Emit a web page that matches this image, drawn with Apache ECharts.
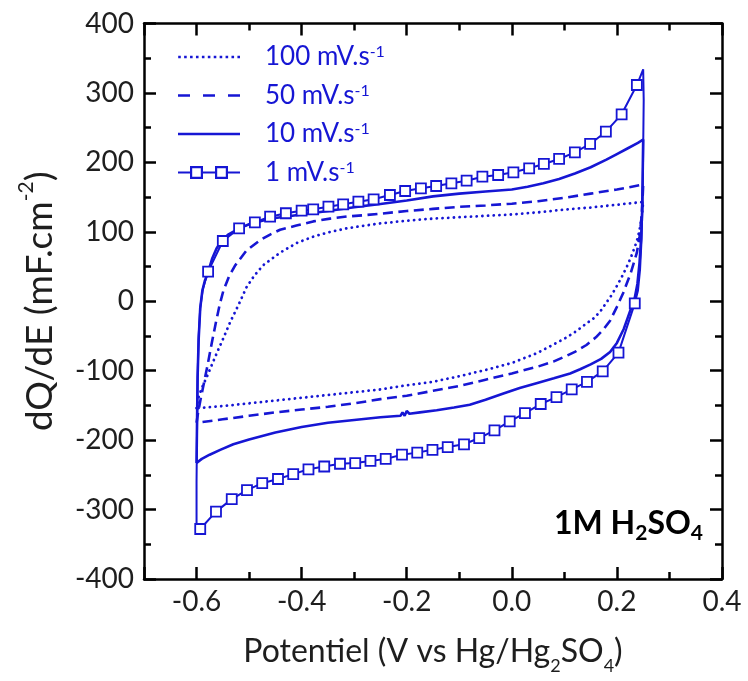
<!DOCTYPE html>
<html>
<head>
<meta charset="utf-8">
<script src="https://cdn.jsdelivr.net/npm/echarts@6.0.0/dist/echarts.min.js"></script>
<style>html,body{margin:0;padding:0;background:#fff;}#chart{width:748px;height:681px;}</style>
</head>
<body>
<div id="chart"></div>
<script>
// ---------------- data ----------------
const xRange = [-0.7, 0.4];
const yRange = [-400, 400];
const yStep = 100;
const seriesNames = ['100 mV.s-1', '50 mV.s-1', '10 mV.s-1', '1 mV.s-1'];
const xTitle = 'Potentiel (V vs Hg/Hg{sub|2}SO{sub|4})';
const yTitle = 'dQ/dE (mF.cm{sup|-2})';
const electrolyte = '1M H{sub|2}SO{sub|4}';

// 100 mV/s : anodic sweep then cathodic sweep
const v100 = [-0.600,-0.597,-0.590,-0.580,-0.570,-0.560,-0.550,-0.536,-0.520,-0.505,-0.490,-0.473,-0.457,-0.441,-0.409,-0.378,-0.350,-0.314,-0.280,-0.251,-0.200,-0.150,-0.100,-0.050,0.000,0.050,0.100,0.150,0.200,0.250,
              0.248,0.245,0.240,0.234,0.226,0.219,0.210,0.200,0.190,0.180,0.168,0.155,0.142,0.130,0.117,0.100,0.080,0.060,0.047,0.020,0.000,-0.050,-0.100,-0.150,-0.200,-0.250,-0.300,-0.350,-0.400,-0.450,-0.500,-0.550,-0.600];
const i100 = [-154,-140,-125,-108,-90,-72,-55,-30,-5,20,37,52,61,70,84,93,99,105,109,112,116,119,121,123,125,128,132,135,139,143,
              128,110,92,78,62,50,36,22,9,-2,-15,-25,-32,-39,-46,-54,-62,-70,-75,-83,-89,-99,-108,-116,-121,-127,-131,-135,-139,-143,-147,-151,-154];

// 50 mV/s
const v50 = [-0.600,-0.597,-0.592,-0.586,-0.579,-0.571,-0.563,-0.556,-0.549,-0.538,-0.527,-0.515,-0.505,-0.479,-0.460,-0.441,-0.410,-0.378,-0.346,-0.314,-0.280,-0.251,-0.200,-0.150,-0.100,-0.050,0.000,0.050,0.100,0.150,0.200,0.250,
             0.249,0.247,0.243,0.238,0.232,0.226,0.212,0.200,0.187,0.174,0.160,0.142,0.120,0.100,0.079,0.050,0.020,0.000,-0.050,-0.100,-0.150,-0.200,-0.250,-0.300,-0.350,-0.400,-0.450,-0.500,-0.550,-0.600];
const i50 = [-175,-160,-140,-118,-92,-60,-30,-5,15,36,51,63,73,88,96,103,109,115,119,122,124,126,130,133,136,138,140.5,144,149,155,161,168,
             150,122,93,70,55,40,12,-8,-28,-41,-52,-63,-73,-80,-87,-94,-100,-104,-113,-122,-129,-136,-141,-147,-152,-156,-160,-165,-170,-175];

// 10 mV/s
const v10 = [-0.600,-0.599,-0.598,-0.596,-0.593,-0.589,-0.584,-0.578,-0.570,-0.562,-0.553,-0.540,-0.521,-0.500,-0.475,-0.450,-0.400,-0.350,-0.300,-0.250,-0.200,-0.150,-0.100,-0.050,0.000,0.030,0.060,0.090,0.120,0.150,0.180,0.200,0.220,0.240,0.250,
             0.249,0.248,0.246,0.243,0.239,0.234,0.228,0.220,0.213,0.200,0.187,0.170,0.150,0.130,0.111,0.080,0.047,0.015,-0.016,-0.050,-0.080,-0.110,-0.143,-0.175,-0.195,-0.200,-0.204,-0.208,-0.212,-0.250,-0.300,-0.350,-0.400,-0.450,-0.500,-0.530,-0.555,-0.575,-0.590,-0.600];
const i10 = [-233,-170,-110,-55,-10,15,30,42,62,76,86,96,104,111,116,120,125,130,135.5,140,145,151,155,158,161,165,170,176,184,193,204,212,220,228,233,
             180,130,90,55,25,5,-8,-25,-40,-60,-73,-83,-91,-98,-104,-111,-118,-125,-133,-142,-149,-153,-157,-160,-162,-158,-165,-160,-165,-167,-171,-175,-181,-189,-199,-206,-214,-221,-227,-233];

// 1 mV/s : turning parts (no marker) and marked parts
const v1TurnLow  = [-0.600,-0.600,-0.599,-0.598,-0.596,-0.593,-0.588];
const i1TurnLow  = [-331,-260,-180,-110,-50,-10,18];
const v1Up = [-0.578,-0.550,-0.519,-0.489,-0.460,-0.430,-0.400,-0.378,-0.349,-0.321,-0.292,-0.263,-0.232,-0.203,-0.173,-0.144,-0.115,-0.086,-0.056,-0.026,0.003,0.033,0.061,0.090,0.120,0.149,0.179,0.209,0.238];
const i1Up = [42.6,86.8,105,113.7,121.8,126.7,130.4,132.4,136.2,139.6,143.4,146.8,153,158.8,162.7,166,169.9,173.6,179.4,181.8,185.7,191.5,197.7,204.9,214.5,226.5,244.2,269.2,311.4];
const v1TurnHigh = [0.250,0.251,0.250,0.249,0.247,0.244,0.240];
const i1TurnHigh = [334,290,220,150,90,45,15];
const v1Down = [0.234,0.203,0.173,0.143,0.114,0.085,0.055,0.025,-0.004,-0.033,-0.062,-0.091,-0.122,-0.151,-0.180,-0.209,-0.240,-0.269,-0.298,-0.327,-0.357,-0.387,-0.416,-0.445,-0.475,-0.504,-0.533,-0.563,-0.593];
const i1Down = [-3,-74,-101,-116,-127,-138,-148,-161,-173,-186,-197,-206,-210,-214,-218,-221,-227,-230,-233,-234,-238,-242,-249,-256,-262,-272,-285,-303,-328];

// ---------------- chart ----------------
const BLUE = '#1616d4';
const INK = '#1e1e1e';
const FONT = 'Lato';

function pairs(v, i) { return v.map((x, k) => [x, i[k]]); }
function plain(v, i) { return v.map((x, k) => ({ value: [x, i[k]], symbol: 'none' })); }

const data1 = [].concat(
  plain(v1TurnLow, i1TurnLow),
  pairs(v1Up, i1Up),
  plain(v1TurnHigh, i1TurnHigh),
  pairs(v1Down, i1Down)
);

// legend icons (62 x 14 box)
function rp(x, y, w, h) { return 'M' + x + ' ' + y + 'h' + w + 'v' + h + 'h' + (-w) + 'Z'; }
const corners = rp(0, 0, 0.01, 0.01) + rp(61.99, 13.99, 0.01, 0.01);
const cy = 7, lw = 2.6;
let dots = '';
for (let k = 0; k < 11; k++) dots += rp(0.2 + k * 5.95, cy - 1.3, 2.6, 2.6);
const iconDot = 'path://' + corners + dots;
const iconDash = 'path://' + corners + rp(0, cy - lw / 2, 12, lw) + rp(25, cy - lw / 2, 12, lw) + rp(50, cy - lw / 2, 12, lw);
const iconSolid = 'path://' + corners + rp(0, cy - lw / 2, 62, lw);
function sq(x) { return 'M' + x + ' 0.5h13v13h-13Z' + 'M' + (x + 2.2) + ' 2.7v8.6h8.6v-8.6Z'; }
const iconSq = 'path://' + corners + rp(0, cy - 1, 12, 2) + sq(12) + rp(25, cy - 1, 12, 2) + sq(37) + rp(50, cy - 1, 12, 2);

const axisLineStyle = { color: '#000', width: 2.5 };
function frameAxis(pos, isX) {
  const a = {
    type: 'value', position: pos,
    min: isX ? xRange[0] : yRange[0], max: isX ? xRange[1] : yRange[1],
    axisLine: { show: true, onZero: false, lineStyle: axisLineStyle },
    axisTick: { show: true, inside: true, length: 12, lineStyle: axisLineStyle },
    minorTick: { show: true, splitNumber: 2, length: 7, lineStyle: axisLineStyle },
    splitLine: { show: false }, minorSplitLine: { show: false },
    axisLabel: { show: false }
  };
  if (!isX) a.interval = yStep;
  return a;
}

const xMain = frameAxis('bottom', true);
xMain.axisLabel = { show: true, showMinLabel: false, formatter: v => v.toFixed(1), fontFamily: FONT, fontSize: 28, color: INK, margin: 9 };
xMain.name = xTitle;
xMain.nameLocation = 'middle';
xMain.nameGap = 50;
xMain.nameTextStyle = { fontFamily: FONT, fontSize: 32, color: INK, lineHeight: 46,
  rich: { sub: { fontFamily: FONT, fontSize: 18, color: INK, lineHeight: 12, verticalAlign: 'bottom' } } };

const yMain = frameAxis('left', false);
yMain.axisLabel = { show: true, fontFamily: FONT, fontSize: 28, color: INK, margin: 10 };
yMain.name = yTitle;
yMain.nameLocation = 'middle';
yMain.nameGap = 79;
yMain.nameRotate = 90;
yMain.nameTextStyle = { fontFamily: FONT, fontSize: 37, color: INK, lineHeight: 48,
  rich: { sup: { fontFamily: FONT, fontSize: 21, color: INK, lineHeight: 12, verticalAlign: 'top' } } };

const option = {
  animation: false,
  backgroundColor: '#fff',
  grid: { left: 144, right: 26, top: 23.5, bottom: 102, containLabel: false },
  xAxis: [xMain, frameAxis('top', true)],
  yAxis: [yMain, frameAxis('right', false)],
  legend: {
    orient: 'vertical', left: 178, top: 44, padding: 0,
    itemWidth: 62, itemHeight: 14, itemGap: 12.5,
    itemStyle: { color: BLUE, borderWidth: 0 },
    textStyle: { color: BLUE, fontFamily: FONT, fontSize: 26, lineHeight: 26, padding: [0, 0, 0, 20],
      rich: { sup: { color: BLUE, fontFamily: FONT, fontSize: 16, lineHeight: 18, verticalAlign: 'top' } } },
    formatter: name => name.replace('s-1', 's{sup|-1}'),
    data: [
      { name: seriesNames[0], icon: iconDot },
      { name: seriesNames[1], icon: iconDash },
      { name: seriesNames[2], icon: iconSolid },
      { name: seriesNames[3], icon: iconSq }
    ]
  },
  graphic: [{
    type: 'text', x: 703, y: 524, z: 100,
    style: { text: electrolyte, align: 'right', verticalAlign: 'middle', fill: '#000',
      font: 'bold 32px Lato', lineHeight: 40,
      rich: { sub: { fontFamily: FONT, fontWeight: 'bold', fontSize: 21, fill: '#000', lineHeight: 14, verticalAlign: 'bottom' } } }
  }],
  series: [
    { name: seriesNames[0], type: 'line', data: pairs(v100, i100), symbol: 'none', smooth: false,
      lineStyle: { color: BLUE, width: 2.8, type: [0.1, 5.6], cap: 'round' }, itemStyle: { color: BLUE } },
    { name: seriesNames[1], type: 'line', data: pairs(v50, i50), symbol: 'none', smooth: false,
      lineStyle: { color: BLUE, width: 2.6, type: [10, 5.5] }, itemStyle: { color: BLUE } },
    { name: seriesNames[2], type: 'line', data: pairs(v10, i10), symbol: 'none', smooth: false,
      lineStyle: { color: BLUE, width: 2.6 }, itemStyle: { color: BLUE } },
    { name: seriesNames[3], type: 'line', data: data1, symbol: 'rect', symbolSize: 10, showSymbol: true, showAllSymbol: true, smooth: false,
      lineStyle: { color: BLUE, width: 2 }, itemStyle: { color: '#fff', borderColor: BLUE, borderWidth: 1.8 }, z: 3 }
  ]
};

const chart = echarts.init(document.getElementById('chart'), null, { renderer: 'canvas' });
chart.setOption(option);
</script>
</body>
</html>
